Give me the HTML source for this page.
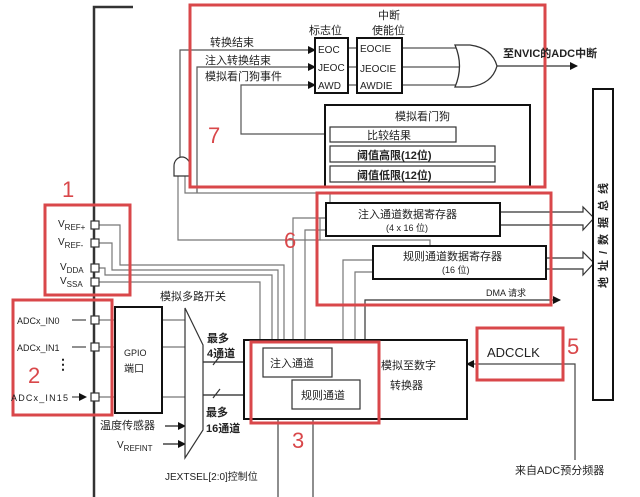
<!DOCTYPE html>
<html><head><meta charset="utf-8"><style>
html,body{margin:0;padding:0;background:#fff;}
svg{display:block;}
text{font-family:"Liberation Sans","Noto Sans CJK SC",sans-serif;fill:#222;}
</style></head><body>
<svg width="640" height="497" viewBox="0 0 640 497" xmlns="http://www.w3.org/2000/svg">
<defs>
<marker id="a" markerWidth="8" markerHeight="8" refX="7" refY="4" orient="auto" markerUnits="userSpaceOnUse"><path d="M0,0 L8,4 L0,8z" fill="#111"/></marker>
</defs>
<g fill="none" stroke="#777" stroke-width="1.2">
<path d="M94,497 V7 H133" stroke="#333" stroke-width="2.5"/>
<path d="M180,157 V50 H315" marker-end="url(#a)" stroke="#555"/>
<path d="M197,193 V67 H315" marker-end="url(#a)" stroke="#555"/>
<path d="M330,134 H241 V85 H315" marker-end="url(#a)" stroke="#555"/>
<path d="M348,48 H357 M348,67 H357 M348,85 H357" stroke="#555"/>
<path d="M402,48 H462 M402,67 H464 M402,85 H462" stroke="#555"/>
<path d="M497,66 H577" marker-end="url(#a)" stroke="#333"/>
<path d="M178,176 V240 H320 V218 H326"/>
<path d="M185,176 V193 H330 V203"/>
<path d="M293,340 V218 H326"/>
<path d="M305,340 V230 H326"/>
<path d="M343,380 V260 H372"/>
<path d="M355,380 V272 H372"/>
<path d="M365,340 V300 H560" stroke="#333" marker-end="url(#a)"/>
<path d="M320,240 H430 V246"/>
<path d="M99,225 H120 V265 H284 V340"/>
<path d="M99,243 H112 V270 H278 V340"/>
<path d="M99,268 H105 V275 H272 V340"/>
<path d="M99,282 H260 V340"/>
<path d="M99,320 H115 M99,347 H115 M99,397 H115"/>
<path d="M162,320 H185 M162,347 H185 M162,397 H185"/>
<path d="M203,362 H263" stroke="#222" marker-end="url(#a)"/>
<path d="M203,395 H292" stroke="#222" marker-end="url(#a)"/>
<path d="M213,365 L220,356 M213,398 L220,389" stroke="#333"/>
<path d="M165,426 H185" stroke="#222" marker-end="url(#a)"/>
<path d="M163,444 H185" stroke="#222" marker-end="url(#a)"/>
<path d="M278,497 V378" stroke="#444" marker-end="url(#a)"/>
<path d="M313,497 V410" stroke="#444" marker-end="url(#a)"/>
<path d="M575,460 V364 H467" stroke="#444" marker-end="url(#a)"/>
<path d="M500,212 H583 V207 L594,218 L583,230 V225 H500" stroke="#333"/>
<path d="M546,258 H583 V252 L594,263 L583,275 V269 H546" stroke="#333"/>
</g>
<path d="M174,176 V166 A8,9 0 0 1 190,166 V176 Z" fill="#fff" stroke="#333" stroke-width="1.2"/>
<path d="M455,45 H470 Q492,48 497,66 Q492,84 470,87 H455 Q464,66 455,45 Z" fill="#fff" stroke="#333" stroke-width="1.3"/>
<g fill="#fff" stroke="#111" stroke-width="2">
<rect x="315" y="38" width="33" height="55"/>
<rect x="357" y="38" width="45" height="55"/>
<rect x="325" y="105" width="205" height="82"/>
<rect x="115" y="307" width="47" height="106"/>
<rect x="244" y="340" width="223" height="79"/>
<rect x="326" y="203" width="174" height="33"/>
<rect x="373" y="246" width="173" height="33"/>
<rect x="593" y="89" width="20" height="311"/>
</g>
<g fill="#fff" stroke="#333" stroke-width="1.2">
<rect x="330" y="127" width="126" height="15"/>
<rect x="330" y="146" width="165" height="16"/>
<rect x="330" y="166" width="165" height="16"/>
<rect x="263" y="348" width="69" height="29"/>
<rect x="292" y="380" width="68" height="29"/>
<path d="M185,308 L203,345 V430 L185,458 Z"/>
</g>
<g fill="#fff" stroke="#333" stroke-width="1.2">
<rect x="91" y="221" width="8" height="8"/><rect x="91" y="239" width="8" height="8"/>
<rect x="91" y="264" width="8" height="8"/><rect x="91" y="278" width="8" height="8"/>
<rect x="91" y="316" width="8" height="8"/><rect x="91" y="343" width="8" height="8"/>
<rect x="91" y="393" width="8" height="8"/>
</g>
<g stroke="#222" stroke-width="1" fill="none">
<path d="M72,320 H86 M72,347 H86 M72,397 H86" marker-end="url(#a)"/>
</g>
<g fill="none" stroke="#d9474a" stroke-width="3">
<rect x="190" y="5" width="355" height="182"/>
<rect x="45" y="205" width="85" height="90"/>
<rect x="13" y="300" width="99" height="115"/>
<rect x="251" y="342" width="128" height="81"/>
<rect x="477" y="328" width="86" height="52"/>
<rect x="317" y="193" width="234" height="112"/>
</g>
<g font-size="22">
<text x="208" y="143" style="fill:#d9474a">7</text>
<text x="62" y="197" style="fill:#d9474a">1</text>
<text x="28" y="383" style="fill:#d9474a">2</text>
<text x="292" y="448" style="fill:#d9474a">3</text>
<text x="567" y="354" style="fill:#d9474a">5</text>
<text x="284" y="248" style="fill:#d9474a">6</text>
</g>
<g font-size="11">
<text x="378" y="19">中断</text>
<text x="309" y="34">标志位</text><text x="372" y="34">使能位</text>
<text x="210" y="46">转换结束</text>
<text x="205" y="64">注入转换结束</text>
<text x="205" y="80">模拟看门狗事件</text>
<text x="318" y="53" font-size="10">EOC</text><text x="318" y="71" font-size="10">JEOC</text><text x="318" y="89" font-size="10">AWD</text>
<text x="360" y="52" font-size="10">EOCIE</text><text x="360" y="72" font-size="10">JEOCIE</text><text x="360" y="89" font-size="10">AWDIE</text>
<text x="503" y="57" font-weight="bold" font-size="11">至NVIC的ADC中断</text>
<text x="395" y="120">模拟看门狗</text>
<text x="367" y="139">比较结果</text>
<text x="357" y="159" font-weight="bold">阈值高限(12位)</text>
<text x="357" y="179" font-weight="bold">阈值低限(12位)</text>
<text x="358" y="218">注入通道数据寄存器</text>
<text x="386" y="231" font-size="9">(4 x 16 位)</text>
<text x="403" y="260">规则通道数据寄存器</text>
<text x="442" y="273" font-size="9">(16 位)</text>
<text x="486" y="296" font-size="9">DMA 请求</text>
<text x="487" y="357" font-size="13">ADCCLK</text>
<text x="381" y="369">模拟至数字</text>
<text x="390" y="389">转换器</text>
<text x="270" y="367">注入通道</text>
<text x="301" y="399">规则通道</text>
<text x="160" y="300">模拟多路开关</text>
<text x="207" y="342" font-weight="bold">最多</text>
<text x="207" y="357" font-weight="bold">4通道</text>
<text x="206" y="416" font-weight="bold">最多</text>
<text x="206" y="432" font-weight="bold">16通道</text>
<text x="124" y="356" font-size="9">GPIO</text>
<text x="124" y="372" font-size="10">端口</text>
<text x="100" y="429">温度传感器</text>
<text x="117" y="448" font-size="10">V<tspan font-size="8" dy="3">REFINT</tspan></text>
<text x="165" y="480" font-size="10">JEXTSEL[2:0]控制位</text>
<text x="515" y="474" font-size="11">来自ADC预分频器</text>
<text x="17" y="324" font-size="9">ADCx_IN0</text>
<text x="17" y="351" font-size="9">ADCx_IN1</text>
<text x="11" y="401" font-size="9" textLength="57">ADCx_IN15</text>
<text x="56" y="369" font-size="14" font-weight="bold">⋮</text>
<text x="58" y="227" font-size="10">V<tspan font-size="8" dy="3">REF+</tspan></text>
<text x="58" y="245" font-size="10">V<tspan font-size="8" dy="3">REF-</tspan></text>
<text x="60" y="270" font-size="10">V<tspan font-size="8" dy="3">DDA</tspan></text>
<text x="60" y="284" font-size="10">V<tspan font-size="8" dy="3">SSA</tspan></text>
<text transform="translate(607,288) rotate(-90)" font-size="11" font-weight="bold" letter-spacing="6">地址/数据总线</text>
</g>
</svg>
</body></html>
